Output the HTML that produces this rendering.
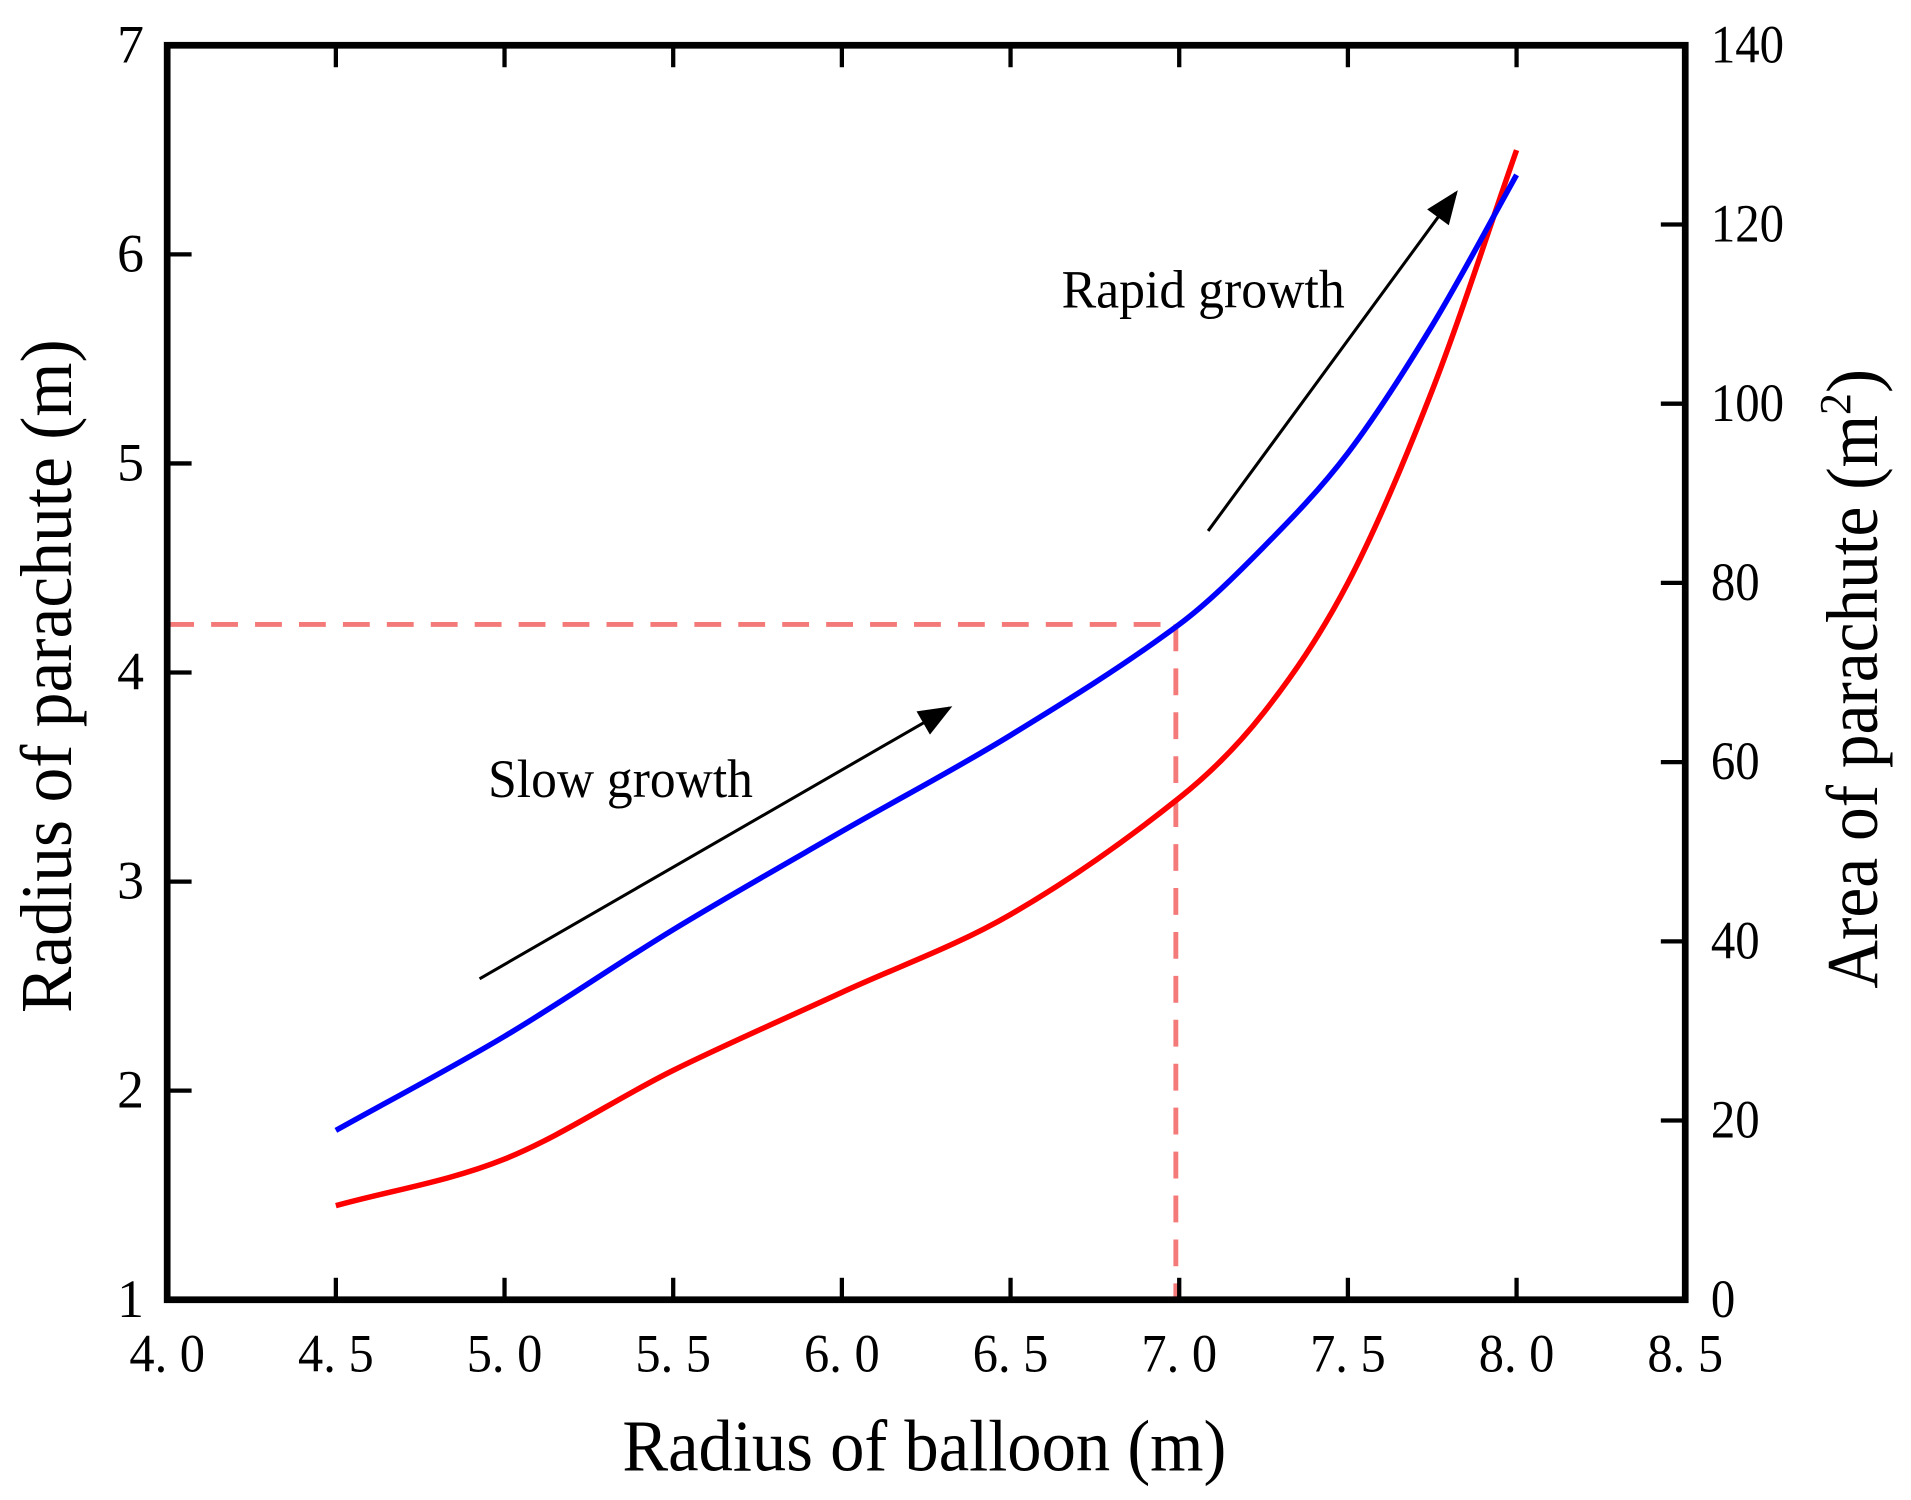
<!DOCTYPE html>
<html><head><meta charset="utf-8"><style>
html,body{margin:0;padding:0;background:#fff}
svg{display:block}
text{font-family:"Liberation Serif",serif;fill:#000}
</style></head><body>
<svg id="chart" width="1911" height="1500" viewBox="0 0 1566 1229" xmlns="http://www.w3.org/2000/svg">
<defs><marker id="ah" markerWidth="28" markerHeight="22" refX="9" refY="4" orient="auto" markerUnits="userSpaceOnUse" viewBox="0 0 10 8"><path d="M0,0 L10,4 L0,8 z" fill="#000"/></marker></defs>
<g id="plot"></g>
</svg>
<script>
const xTicks=[4.0,4.5,5.0,5.5,6.0,6.5,7.0,7.5,8.0,8.5];
const xTickLabels=["4. 0","4. 5","5. 0","5. 5","6. 0","6. 5","7. 0","7. 5","8. 0","8. 5"];
const yLeftTicks=[1,2,3,4,5,6,7];
const yRightTicks=[0,20,40,60,80,100,120,140];
const xs=[4.5,5.0,5.5,6.0,6.5,7.0,7.25,7.5,7.75,8.0];
const radiusVals=[1.81,2.26,2.77,3.24,3.70,4.23,4.60,5.05,5.66,6.38];
const areaVals=[10.5,15.7,25.6,34.3,43.0,56.0,65.5,80.0,101.5,128.3];
const refX=6.99, refY=4.23;

const L=137,R=1381,T=37,B=1065;
const X=v=>L+(v-4)/(8.5-4)*(R-L);
const YL=v=>B-(v-1)/6*(B-T);
const YR=v=>B-v/140*(B-T);
const NS="http://www.w3.org/2000/svg";
const g=document.getElementById('plot');
function mk(tag,attrs,parent){const e=document.createElementNS(NS,tag);for(const k in attrs)e.setAttribute(k,attrs[k]);(parent||g).appendChild(e);return e;}
function smooth(pts){let d=`M${pts[0][0]},${pts[0][1]}`;for(let i=0;i<pts.length-1;i++){const p0=pts[Math.max(i-1,0)],p1=pts[i],p2=pts[i+1],p3=pts[Math.min(i+2,pts.length-1)];
const h=p2[0]-p1[0];
const m1=(p2[1]-p0[1])/(p2[0]-p0[0]||1), m2=(p3[1]-p1[1])/(p3[0]-p1[0]||1);
const c1=[p1[0]+h/3,p1[1]+m1*h/3],c2=[p2[0]-h/3,p2[1]-m2*h/3];
d+=` C${c1[0]},${c1[1]} ${c2[0]},${c2[1]} ${p2[0]},${p2[1]}`;}return d;}

let e=mk('line',{x1:L,y1:YL(refY),x2:X(refX),y2:YL(refY),stroke:'#f47a7a','stroke-width':4,'stroke-dasharray':'22,14'});


e=mk('line',{x1:X(refX),y1:YL(refY),x2:X(refX),y2:B,stroke:'#f47a7a','stroke-width':4,'stroke-dasharray':'22,14'});



e=mk('path',{d:smooth(xs.map((x,i)=>[X(x),YR(areaVals[i])])),fill:'none',stroke:'#ff0000','stroke-width':4.5});


e=mk('path',{d:smooth(xs.map((x,i)=>[X(x),YL(radiusVals[i])])),fill:'none',stroke:'#0000ff','stroke-width':4.5});



e=mk('rect',{x:L,y:T,width:R-L,height:B-T,fill:'none',stroke:'#000','stroke-width':5.5});



xTicks.forEach((v,i)=>{
  if(i>0&&i<xTicks.length-1){
    const t1=mk('line',{x1:X(v),y1:B,x2:X(v),y2:B-18,stroke:'#000','stroke-width':3.5});
    
    
    const t2=mk('line',{x1:X(v),y1:T,x2:X(v),y2:T+18,stroke:'#000','stroke-width':3.5});
    
    
  }
  const t=mk('text',{x:X(v)-31,y:1124,'font-size':44,textLength:62,lengthAdjust:'spacingAndGlyphs'});
  t.textContent=xTickLabels[i];
  
  
});
yLeftTicks.forEach(v=>{
  if(v>1&&v<7){
    const t1=mk('line',{x1:L,y1:YL(v),x2:L+20,y2:YL(v),stroke:'#000','stroke-width':3.5});
    
    
  }
  const t=mk('text',{x:118,y:YL(v)+14,'text-anchor':'end','font-size':44});
  t.textContent=v;
  
  
});
yRightTicks.forEach(v=>{
  if(v>0&&v<140){
    const t1=mk('line',{x1:R,y1:YR(v),x2:R-20,y2:YR(v),stroke:'#000','stroke-width':3.5});
    
    
  }
  const t=mk('text',{x:1402,y:YR(v)+14,'font-size':44,textLength:String(v).length*20,lengthAdjust:'spacingAndGlyphs'});
  t.textContent=v;
  
  
});

e=mk('text',{x:510,y:1205,'font-size':60,textLength:495,lengthAdjust:'spacingAndGlyphs'});
e.textContent='Radius of balloon (m)';


e=mk('text',{x:0,y:0,'font-size':60,textLength:552,lengthAdjust:'spacingAndGlyphs',transform:'translate(58,830) rotate(-90)'});
e.textContent='Radius of parachute (m)';


e=mk('text',{x:0,y:0,'font-size':60,transform:'translate(1538,810) rotate(-90)'});
e.innerHTML='<tspan textLength="470" lengthAdjust="spacingAndGlyphs">Area of parachute (m</tspan><tspan dy="-22" font-size="36">2</tspan><tspan dy="22">)</tspan>';



e=mk('line',{x1:393,y1:802,x2:778,y2:580,stroke:'#000','stroke-width':2.5,'marker-end':'url(#ah)'});


e=mk('line',{x1:990,y1:435,x2:1193,y2:158,stroke:'#000','stroke-width':2.5,'marker-end':'url(#ah)'});


e=mk('text',{x:400,y:653,'font-size':44,textLength:217,lengthAdjust:'spacingAndGlyphs'});
e.textContent='Slow growth';


e=mk('text',{x:870,y:252,'font-size':44,textLength:232,lengthAdjust:'spacingAndGlyphs'});
e.textContent='Rapid growth';


</script>
</body></html>
